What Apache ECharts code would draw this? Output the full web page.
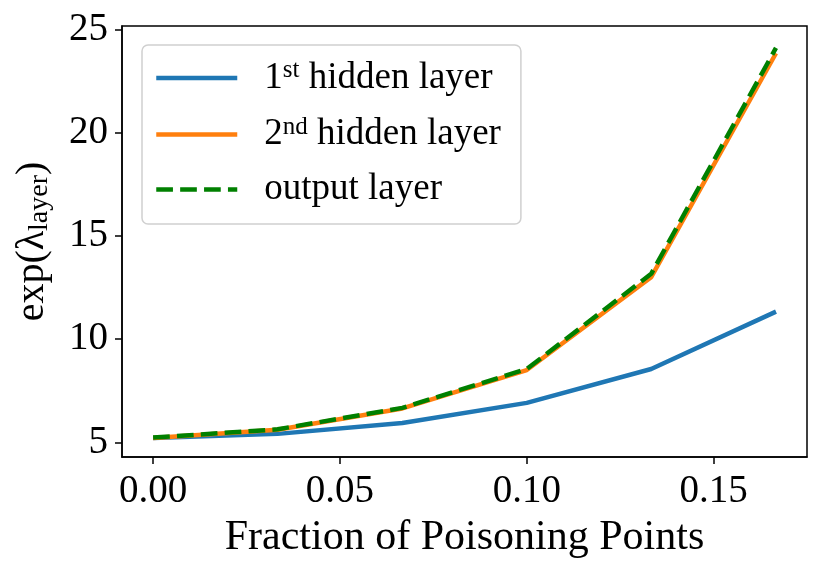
<!DOCTYPE html>
<html>
<head>
<meta charset="utf-8">
<script src="https://cdn.jsdelivr.net/npm/echarts@6/dist/echarts.min.js"></script>
<style>
html,body{margin:0;padding:0;background:#fff;}
#main{width:830px;height:574px;}
</style>
</head>
<body>
<div id="main"></div>
<script>
// fraction of poisoning points
var xVals = [0, 0.0333, 0.0667, 0.1, 0.1333, 0.1667];
// exp(lambda) per layer
var hidden1 = [5.21, 5.41, 5.94, 6.91, 8.55, 11.33];
var hidden2 = [5.21, 5.61, 6.64, 8.50, 13.0, 23.84];
var outLayer = [5.23, 5.63, 6.67, 8.55, 13.16, 24.1];
var xTicks = [0, 0.05, 0.1, 0.15];
var yTicks = [5, 10, 15, 20, 25];
var seriesNames = ['1st hidden layer', '2nd hidden layer', 'output layer'];

var font = 'Liberation Serif';

function pairs(ys){
	var out = [];
	for(var i=0;i<xVals.length;i++){
		out.push([xVals[i], ys[i]]);
	}
	return out;
}

var myChart = echarts.init(document.getElementById('main'));
var option = {
	animation: false,
	grid: {
		left: 122, right: 23, top: 26, bottom: 117,
		show: true, borderColor: '#000', borderWidth: 1.5
	},
	legend: {
		orient: 'vertical',
		left: 142, top: 45,
		padding: [13, 20, 16, 12],
		itemWidth: 81, itemHeight: 14, itemGap: 18,
		backgroundColor: '#fff',
		borderColor: '#d0d0d0', borderWidth: 1.5, borderRadius: 6,
		data: seriesNames,
		lineStyle: {width: 4.5},
		itemStyle: {opacity: 0},
		formatter: function(name){
			if(name === seriesNames[0]) return '{m|1}{s|st}{m| hidden layer}';
			if(name === seriesNames[1]) return '{m|2}{s|nd}{m| hidden layer}';
			return '{m|output layer}';
		},
		textStyle: {
			padding: [0, 0, 0, 22],
			rich: {
				m: {fontFamily: font, fontSize: 37, lineHeight: 40, color: '#000'},
				s: {fontFamily: font, fontSize: 25, lineHeight: 13, verticalAlign: 'top', color: '#000'}
			}
		}
	},
	xAxis: {
		type: 'value',
		min: -0.00833, max: 0.175,
		name: 'Fraction of Poisoning Points',
		nameLocation: 'middle', nameGap: 60,
		nameTextStyle: {fontFamily: font, fontSize: 42, color: '#000'},
		axisLine: {show: true, onZero: false, lineStyle: {color: '#000', width: 1.5}},
		axisTick: {show: true, length: 7, lineStyle: {color: '#000', width: 1.5}, customValues: xTicks},
		axisLabel: {
			fontFamily: font, fontSize: 39, color: '#000', margin: 15,
			customValues: xTicks,
			formatter: function(v){ return v.toFixed(2); }
		},
		splitLine: {show: false}
	},
	yAxis: {
		type: 'value',
		min: 4.29, max: 25.16,
		name: '{m|exp(λ}{sub|layer}{m|)}',
		nameLocation: 'middle', nameGap: 68, nameRotate: 90,
		nameTextStyle: {
			rich: {
				m: {fontFamily: font, fontSize: 40, lineHeight: 44, color: '#000'},
				sub: {fontFamily: font, fontSize: 28, lineHeight: 26, verticalAlign: 'bottom', color: '#000'}
			}
		},
		axisLine: {show: true, onZero: false, lineStyle: {color: '#000', width: 1.5}},
		axisTick: {show: true, length: 7, lineStyle: {color: '#000', width: 1.5}, customValues: yTicks},
		axisLabel: {fontFamily: font, fontSize: 39, color: '#000', margin: 14, customValues: yTicks},
		splitLine: {show: false}
	},
	series: [
		{
			name: seriesNames[0], type: 'line', symbol: 'none',
			data: pairs(hidden1),
			lineStyle: {color: '#1f77b4', width: 4.5},
			itemStyle: {color: '#1f77b4'}
		},
		{
			name: seriesNames[1], type: 'line', symbol: 'none',
			data: pairs(hidden2),
			lineStyle: {color: '#ff7f0e', width: 4.5},
			itemStyle: {color: '#ff7f0e'}
		},
		{
			name: seriesNames[2], type: 'line', symbol: 'none',
			data: pairs(outLayer),
			lineStyle: {color: '#008000', width: 4.5, type: [16.7, 7.2]},
			itemStyle: {color: '#008000'}
		}
	]
};
myChart.setOption(option);
</script>
</body>
</html>
